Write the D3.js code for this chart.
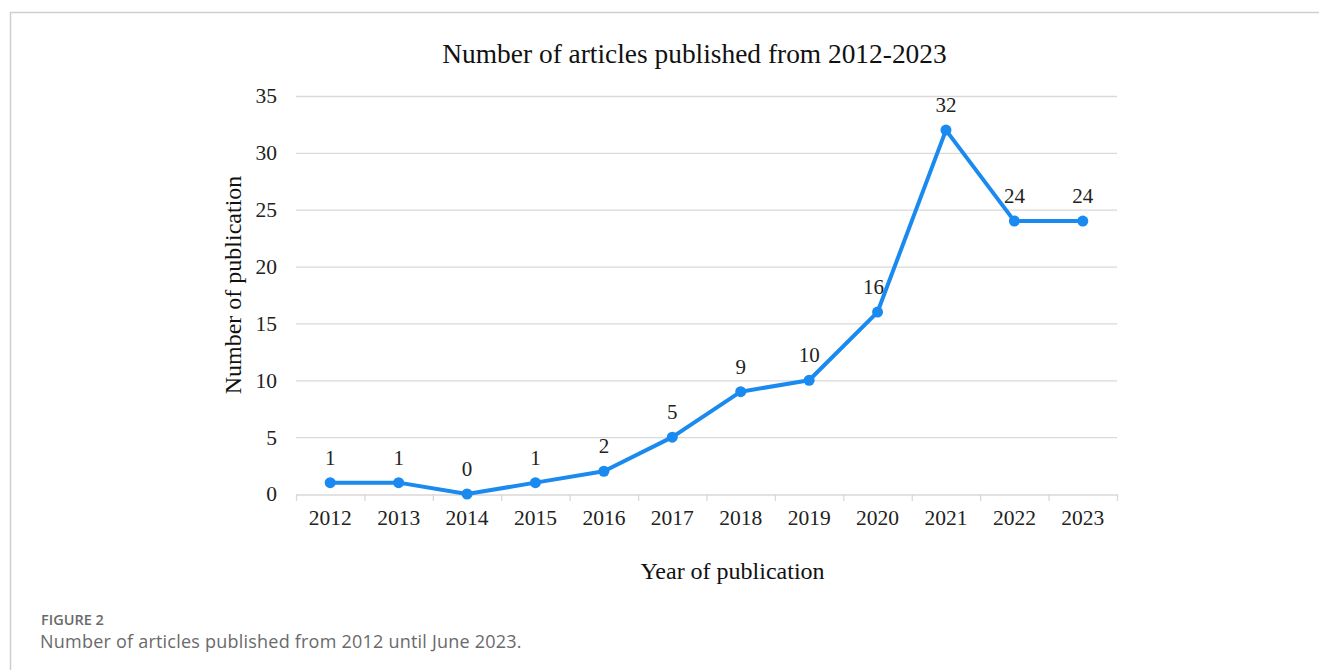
<!DOCTYPE html>
<html>
<head>
<meta charset="utf-8">
<script src="https://cdn.jsdelivr.net/npm/d3@7"></script>
<style>
  html, body { margin: 0; padding: 0; background: #fff; }
  svg { display: block; }
</style>
</head>
<body>
<div id="chart"></div>
<script>
var years = ["2012","2013","2014","2015","2016","2017","2018","2019","2020","2021","2022","2023"];
var counts = [1, 1, 0, 1, 2, 5, 9, 10, 16, 32, 24, 24];
var yTicks = [0, 5, 10, 15, 20, 25, 30, 35];

var w = 1319, h = 670;
var lineColor = "#1a8af0";
var serif = "'Liberation Serif', 'Times New Roman', serif";

var svg = d3.select('#chart').append('svg')
  .attr('width', w)
  .attr('height', h);

// outer frame (only top and left visible)
svg.append('path')
  .attr('d', 'M10.5,' + h + ' L10.5,12.5 L' + w + ',12.5')
  .attr('fill', 'none')
  .attr('stroke', '#cfcfcf')
  .attr('stroke-width', 1.5);

var plotL = 296, plotR = 1117, plotT = 96, plotB = 494;

var x = d3.scaleBand().domain(years).range([plotL, plotR]);
var y = d3.scaleLinear().domain([0, 35]).range([plotB, plotT]);

// gridlines
svg.append('g').selectAll('line')
  .data(yTicks.filter(function(d) { return d > 0; }))
  .enter().append('line')
  .attr('x1', plotL).attr('x2', plotR)
  .attr('y1', function(d) { return y(d) + 0.5; })
  .attr('y2', function(d) { return y(d) + 0.5; })
  .attr('stroke', '#d9d9d9')
  .attr('stroke-width', 1.3);

// y axis labels
var yAxis = svg.append('g')
  .attr('transform', 'translate(' + plotL + ',0)')
  .call(d3.axisLeft(y).tickValues(yTicks).tickSize(0).tickPadding(19));
yAxis.select('.domain').remove();
yAxis.selectAll('text')
  .attr('font-family', serif)
  .attr('font-size', 21.5)
  .attr('fill', '#222');

// x axis with tick marks at band edges
var xAxis = svg.append('g')
  .attr('transform', 'translate(0,' + (plotB + 0.5) + ')')
  .call(d3.axisBottom(x).tickSize(0).tickPadding(15));
xAxis.select('.domain').attr('stroke', '#d9d9d9').attr('stroke-width', 1.3);
xAxis.selectAll('text')
  .attr('font-family', serif)
  .attr('font-size', 21.5)
  .attr('fill', '#222');

var edges = years.map(function(d) { return x(d); }).concat([plotR]);
svg.append('g').selectAll('line')
  .data(edges)
  .enter().append('line')
  .attr('x1', function(d) { return d + 0.5; })
  .attr('x2', function(d) { return d + 0.5; })
  .attr('y1', plotB).attr('y2', plotB + 7)
  .attr('stroke', '#d9d9d9')
  .attr('stroke-width', 1.3);

// the line
var cx = function(d, i) { return x(years[i]) + x.bandwidth() / 2; };
var line = d3.line()
  .x(cx)
  .y(function(d) { return y(d); });

svg.append('path')
  .datum(counts)
  .attr('d', line)
  .attr('fill', 'none')
  .attr('stroke', lineColor)
  .attr('stroke-width', 4)
  .attr('stroke-linejoin', 'round');

svg.append('g').selectAll('circle')
  .data(counts)
  .enter().append('circle')
  .attr('cx', cx)
  .attr('cy', function(d) { return y(d); })
  .attr('r', 5.5)
  .attr('fill', lineColor);

// data labels
svg.append('g').selectAll('text')
  .data(counts)
  .enter().append('text')
  .attr('x', function(d, i) { return cx(d, i) + (years[i] === "2020" ? -4 : 0); })
  .attr('y', function(d) { return y(d) - 18; })
  .attr('text-anchor', 'middle')
  .attr('font-family', serif)
  .attr('font-size', 21)
  .attr('fill', '#222')
  .text(function(d) { return d; });

// titles
svg.append('text')
  .attr('x', (plotL + plotR) / 2 - 12)
  .attr('y', 63)
  .attr('text-anchor', 'middle')
  .attr('font-family', serif)
  .attr('font-size', 27.4)
  .attr('fill', '#111')
  .text('Number of articles published from 2012-2023');

svg.append('text')
  .attr('transform', 'translate(241,' + ((plotT + plotB) / 2 - 10) + ') rotate(-90)')
  .attr('text-anchor', 'middle')
  .attr('font-family', serif)
  .attr('font-size', 24)
  .attr('fill', '#111')
  .text('Number of publication');

svg.append('text')
  .attr('x', (plotL + plotR) / 2 + 26)
  .attr('y', 579)
  .attr('text-anchor', 'middle')
  .attr('font-family', serif)
  .attr('font-size', 24)
  .attr('fill', '#111')
  .text('Year of publication');

// caption
svg.append('text')
  .attr('x', 41).attr('y', 625)
  .attr('font-family', "'Open Sans', sans-serif")
  .attr('font-size', 14.5)
  .attr('font-weight', 600)
  .attr('fill', '#6a6a6a')
  .text('FIGURE 2');

svg.append('text')
  .attr('x', 40).attr('y', 648)
  .attr('font-family', "'Open Sans', sans-serif")
  .attr('font-size', 18)
  .attr('letter-spacing', 0.22)
  .attr('fill', '#6a6a6a')
  .text('Number of articles published from 2012 until June 2023.');
</script>
</body>
</html>
